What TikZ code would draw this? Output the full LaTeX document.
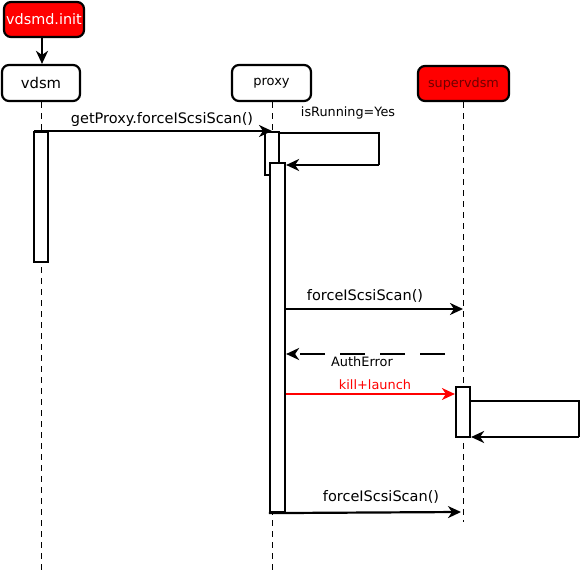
\documentclass[tikz,border=0pt]{standalone}
\usepackage{fontspec}
\setmainfont{DejaVu Sans}
\usetikzlibrary{arrows.meta}
\definecolor{boxred}{RGB}{255,0,0}
\definecolor{darkred}{RGB}{110,0,0}
\begin{document}
\begin{tikzpicture}[x=1pt,y=-1pt,
  actor/.style={draw,line width=2.2pt,rounded corners=7pt,inner sep=0pt},
  life/.style={line width=1pt,dash pattern=on 6pt off 5pt},
  act/.style={draw,line width=2.2pt,fill=white},
  tip/.style={-{Stealth[length=13pt,width=12pt,inset=4pt]}},
  msg/.style={line width=2.2pt,tip},
  lbl/.style={font=\fontsize{14.5}{16}\selectfont,inner sep=0pt}]
\useasboundingbox (0,0) rectangle (582,572);
% actors
\node[actor,fill=boxred,minimum width=80pt,minimum height=35pt,text=white,font=\fontsize{14.4}{16}\selectfont] (init) at (44,19.5) {vdsmd.init};
\node[actor,fill=white,minimum width=78pt,minimum height=36pt,font=\fontsize{14.8}{16}\selectfont] (vdsm) at (41,83) {vdsm};
\node[actor,fill=white,minimum width=79pt,minimum height=36pt,font=\fontsize{13}{14}\selectfont] (proxy) at (271.5,83) {proxy};
\node[actor,fill=boxred,minimum width=91pt,minimum height=35pt,text=darkred,font=\fontsize{12.8}{14}\selectfont] (super) at (463.5,83.5) {supervdsm};
\draw[msg] (init.south -| 42,0) -- (vdsm.north -| 42,0);
% lifelines
\coordinate (vEnd) at (41,572);
\coordinate (pEnd) at (272,572);
\coordinate (sEnd) at (463,522);
\draw[life] (vdsm.south) -- (vEnd);
\draw[life] (proxy.south -| pEnd) -- (pEnd);
\draw[life] (super.south -| sEnd) -- (sEnd);
% activations
\node[act,minimum width=14pt,minimum height=130pt,inner sep=0pt] (va) at (41,197) {};
\node[act,minimum width=14pt,minimum height=43pt,inner sep=0pt] (pa1) at (272,153.5) {};
\node[act,minimum width=15pt,minimum height=349pt,inner sep=0pt] (pa2) at (277.5,337.5) {};
\node[act,minimum width=14pt,minimum height=50pt,inner sep=0pt] (sa) at (463,412) {};
% messages
\coordinate (m1s) at (34,131);
\coordinate (m1e) at (272,131);
\draw[msg] (m1s) -- (m1e);
\node[lbl,anchor=base] at (162,124) {getProxy.forceIScsiScan()};
% self message on proxy
\coordinate (r1) at (379,133);
\coordinate (r2) at (379,165);
\draw[line width=2.2pt] (pa1.east |- r1) -- (r1) -- (r2);
\draw[msg] (r2) -- (pa2.north east |- r2);
\node[lbl,anchor=base,font=\fontsize{12.8}{14}\selectfont] at (348,116.5) {isRunning=Yes};
% forceIScsiScan 1
\draw[msg] (pa2.east |- 0,309) -- (463,309);
\node[lbl,anchor=base] at (365,300.5) {forceIScsiScan()};
% AuthError
\coordinate (ae) at (445,354);
\draw[line width=2.2pt,dash pattern=on 25pt off 15pt,tip] (ae) -- (pa2.east |- ae);
\node[lbl,anchor=base,font=\fontsize{12.9}{14}\selectfont] at (362,366.5) {AuthError};
% kill+launch
\draw[msg,red,line width=1.6pt] (pa2.east |- 0,394) -- (sa.west |- 0,394);
\node[lbl,anchor=base,text=red,font=\fontsize{12.9}{14}\selectfont] at (375,389.5) {kill+launch};
% self message on supervdsm
\coordinate (s1) at (579,401);
\coordinate (s2) at (579,437);
\draw[line width=2.2pt] (sa.east |- s1) -- (s1) -- (s2);
\draw[msg] (s2) -- (sa.east |- s2);
% final forceIScsiScan
\draw[msg] (pa2.south west) -- (461,512);
\node[lbl,anchor=base] at (381,501.5) {forceIScsiScan()};
\end{tikzpicture}
\end{document}
